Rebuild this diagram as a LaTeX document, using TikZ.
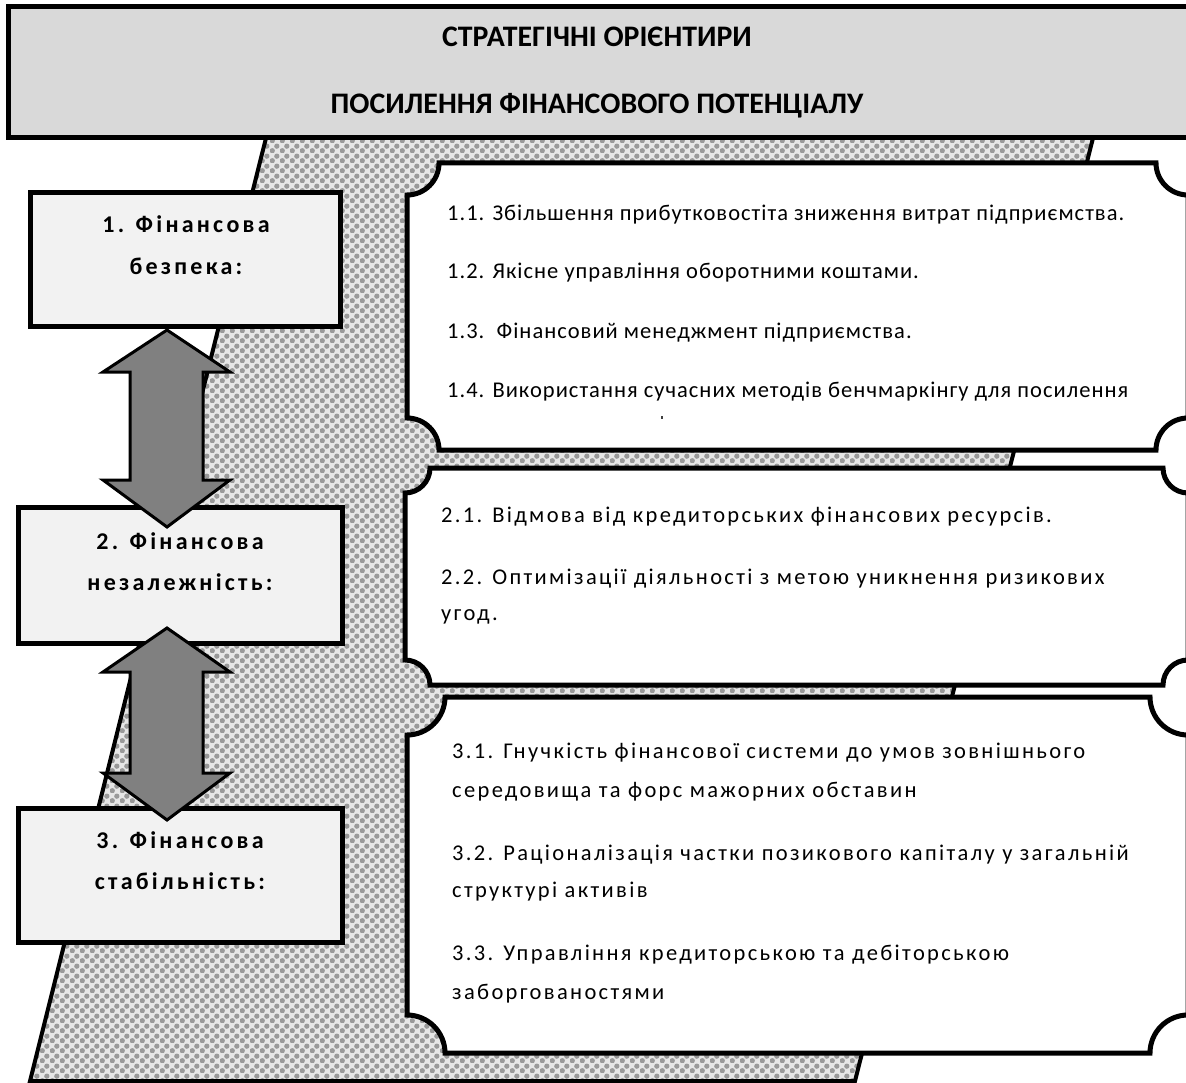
\documentclass[tikz,border=0pt]{standalone}
\usepackage{fontspec}
\setmainfont{Carlito}
\usetikzlibrary{patterns}
\definecolor{hdrgray}{HTML}{D9D9D9}
\definecolor{boxgray}{HTML}{F2F2F2}
\definecolor{arrgray}{HTML}{808080}
\definecolor{patbg}{HTML}{E6E6E6}
\definecolor{patfg}{HTML}{999999}
\pgfdeclarepatternformonly{spheres}{\pgfqpoint{0pt}{0pt}}{\pgfqpoint{10pt}{10pt}}{\pgfqpoint{10pt}{10pt}}{%
  \pgfpathcircle{\pgfqpoint{2.5pt}{2.5pt}}{2.9pt}%
  \pgfpathcircle{\pgfqpoint{7.5pt}{7.5pt}}{2.9pt}%
  \pgfusepath{fill}}
\newcommand{\plaque}[5]{%
  \draw[rbox] (#1,{#2+#5}) .. controls ({#1+0.552*#5},{#2+#5}) and ({#1+#5},{#2+0.552*#5}) .. ({#1+#5},#2)
   -- ({#3-#5},#2) .. controls ({#3-#5},{#2+0.552*#5}) and ({#3-0.552*#5},{#2+#5}) .. (#3,{#2+#5})
   -- (#3,{#4-#5}) .. controls ({#3-0.552*#5},{#4-#5}) and ({#3-#5},{#4-0.552*#5}) .. ({#3-#5},#4)
   -- ({#1+#5},#4) .. controls ({#1+#5},{#4-0.552*#5}) and ({#1+0.552*#5},{#4-#5}) .. (#1,{#4-#5}) -- cycle;}
\begin{document}
\begin{tikzpicture}[x=1pt,y=-1pt,
  hdrbox/.style={draw=black, line width=5pt, fill=hdrgray, inner sep=0pt, outer sep=0pt, anchor=north west},
  hdrtext/.style={font=\fontsize{29.8}{33}\selectfont\bfseries, anchor=base, inner sep=0pt},
  lbox/.style={draw=black, line width=5pt, fill=boxgray, inner sep=0pt, outer sep=0pt, anchor=north west},
  ltext/.style={font=\fontsize{24}{28}\selectfont\bfseries\addfontfeature{LetterSpace=13.5}, anchor=base, inner sep=0pt},
  rbox/.style={draw=black, line width=5pt, fill=white},
  rtexta/.style={font=\fontsize{22.5}{26}\selectfont\addfontfeature{LetterSpace=4.5}, anchor=base west, inner sep=0pt},
  rtextb/.style={font=\fontsize{22.5}{26}\selectfont\addfontfeature{LetterSpace=10.4}, anchor=base west, inner sep=0pt},
  dblarrow/.style={draw=black, line width=3pt, fill=arrgray, line join=miter}]
\clip (0,0) rectangle (1186,1083);
\fill[white] (0,0) rectangle (1186,1083);
% patterned band
\path[draw=black, line width=4pt, preaction={fill=patbg}, pattern=spheres, pattern color=patfg]
  (266,138) -- (1093,138) -- (855,1081) -- (30,1081) -- cycle;
% header
\node[hdrbox, minimum width=1200pt, minimum height=131pt] (header) at (8,7) {};
\node[hdrtext] (h1) at (597,47) {СТРАТЕГІЧНІ ОРІЄНТИРИ};
\node[hdrtext] (h2) at (597,114) {ПОСИЛЕННЯ ФІНАНСОВОГО ПОТЕНЦІАЛУ};
% left boxes
\node[lbox, minimum width=310pt, minimum height=134pt] (b1) at (30,193) {};
\node[lbox, minimum width=324pt, minimum height=136pt] (b2) at (18,507) {};
\node[lbox, minimum width=324pt, minimum height=134pt] (b3) at (18,808) {};
\node[ltext] (b1a) at (186,233) {1. Фінансова};
\node[ltext] (b1b) at (186,275) {безпека:};
\node[ltext] (b2a) at (180,549) {2. Фінансова};
\node[ltext] (b2b) at (180,590) {незалежність:};
\node[ltext] (b3a) at (180,848) {3. Фінансова};
\node[ltext] (b3b) at (180,889) {стабільність:};
% double arrows
\coordinate (a1t) at (167,330);
\coordinate (a1b) at (167,527);
\coordinate (a2t) at (167,628);
\coordinate (a2b) at (167,820);
\draw[dblarrow] (a1t) -- (230,372) -- (203,372) -- (203,480) -- (230,480) -- (a1b) -- (103,480) -- (130,480) -- (130,372) -- (103,372) -- cycle;
\draw[dblarrow] (a2t) -- (230,672) -- (203,672) -- (203,773) -- (230,773) -- (a2b) -- (103,773) -- (130,773) -- (130,672) -- (103,672) -- cycle;
% right boxes
\plaque{407}{163}{1188}{450}{32}
\plaque{405}{468}{1188}{685}{25}
\plaque{407}{697}{1188}{1053}{38}
% texts box 1
\node[rtexta] (t11) at (447,221) {1.1. Збільшення прибутковостіта зниження витрат підприємства.};
\node[rtexta] (t12) at (447,279) {1.2. Якісне управління оборотними коштами.};
\node[rtexta] (t13) at (447,338) {1.3.\ \ Фінансовий менеджмент підприємства.};
\node[rtexta] (t14) at (447,397) {1.4. Використання сучасних методів бенчмаркінгу для посилення};
\fill[black!75] (661,416) rectangle (663,419);
% texts box 2
\node[rtextb] (t21) at (441,522) {2.1. Відмова від кредиторських фінансових ресурсів.};
\node[rtextb] (t22) at (441,584) {2.2. Оптимізації діяльності з метою уникнення ризикових};
\node[rtextb] (t22b) at (441,620) {угод.};
% texts box 3
\node[rtextb] (t31) at (452,758) {3.1. Гнучкість фінансової системи до умов зовнішнього};
\node[rtextb] (t31b) at (452,797) {середовища та форс мажорних обставин};
\node[rtextb] (t32) at (452,860) {3.2. Раціоналізація частки позикового капіталу у загальній};
\node[rtextb] (t32b) at (452,897) {структурі активів};
\node[rtextb] (t33) at (452,960) {3.3. Управління кредиторською та дебіторською};
\node[rtextb] (t33b) at (452,999) {заборгованостями};
\end{tikzpicture}
\end{document}
